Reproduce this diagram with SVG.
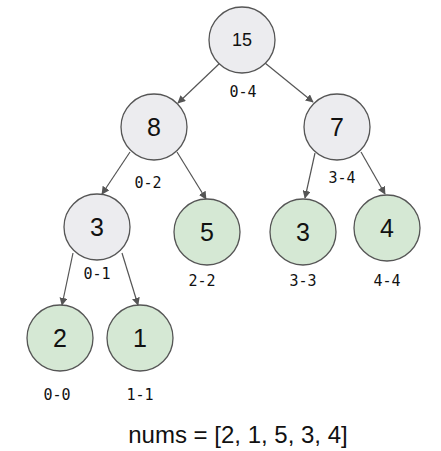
<svg xmlns="http://www.w3.org/2000/svg" width="441" height="451" viewBox="0 0 441 451">
<defs>
<marker id="arr" viewBox="0 0 10 10" refX="9" refY="5" markerWidth="8" markerHeight="8" markerUnits="userSpaceOnUse" orient="auto">
<path d="M0,0 L10,5 L0,10 Z" fill="#555"/>
</marker>
<style>
.inner{fill:#ececef;stroke:#555;stroke-width:1.3}
.leaf{fill:#d5e8d4;stroke:#555;stroke-width:1.3}
.val{font-family:"Liberation Sans",Arial,sans-serif;font-size:25px;fill:#111;text-anchor:middle}
.rng{font-family:"DejaVu Sans Mono","Liberation Mono",monospace;font-size:15px;fill:#111;text-anchor:middle}
.edge{stroke:#555;stroke-width:1.2;fill:none;marker-end:url(#arr)}
</style>
</defs>
<rect width="441" height="451" fill="#fff"/>
<g id="connectors">
<line class="edge" x1="220" y1="63" x2="178" y2="103"/>
<line class="edge" x1="265" y1="63" x2="313" y2="102"/>
<line class="edge" x1="130" y1="152" x2="102" y2="194"/>
<line class="edge" x1="177" y1="152" x2="206" y2="199"/>
<line class="edge" x1="315" y1="153" x2="305" y2="198"/>
<line class="edge" x1="361" y1="152" x2="385" y2="194"/>
<line class="edge" x1="73" y1="253" x2="62" y2="305"/>
<line class="edge" x1="122" y1="253" x2="138" y2="305"/>
</g>
<g id="n15"><circle class="inner" cx="242" cy="40" r="33"/><text class="val" x="242" y="46" style="font-size:18px">15</text><text class="rng" x="243" y="97">0-4</text></g>
<g id="n8"><circle class="inner" cx="154" cy="127" r="33"/><text class="val" x="154" y="136">8</text><text class="rng" x="148" y="188">0-2</text></g>
<g id="n7"><circle class="inner" cx="337" cy="127" r="33"/><text class="val" x="337" y="136">7</text><text class="rng" x="342" y="183">3-4</text></g>
<g id="n3a"><circle class="inner" cx="97" cy="227" r="33"/><text class="val" x="97" y="236">3</text><text class="rng" x="97" y="279">0-1</text></g>
<g id="n5"><circle class="leaf" cx="207" cy="232" r="33"/><text class="val" x="207" y="241">5</text><text class="rng" x="202" y="286">2-2</text></g>
<g id="n3b"><circle class="leaf" cx="303" cy="232" r="33"/><text class="val" x="303" y="241">3</text><text class="rng" x="303" y="286">3-3</text></g>
<g id="n4"><circle class="leaf" cx="387" cy="228" r="33"/><text class="val" x="387" y="237">4</text><text class="rng" x="387" y="286">4-4</text></g>
<g id="n2"><circle class="leaf" cx="60" cy="338" r="33"/><text class="val" x="60" y="347">2</text><text class="rng" x="57" y="400">0-0</text></g>
<g id="n1"><circle class="leaf" cx="140" cy="338" r="33"/><text class="val" x="140" y="347">1</text><text class="rng" x="140" y="400">1-1</text></g>
<text x="238" y="443" style="font-family:'Liberation Sans',Arial,sans-serif;font-size:24px;fill:#111;text-anchor:middle">nums = [2, 1, 5, 3, 4]</text>
</svg>
